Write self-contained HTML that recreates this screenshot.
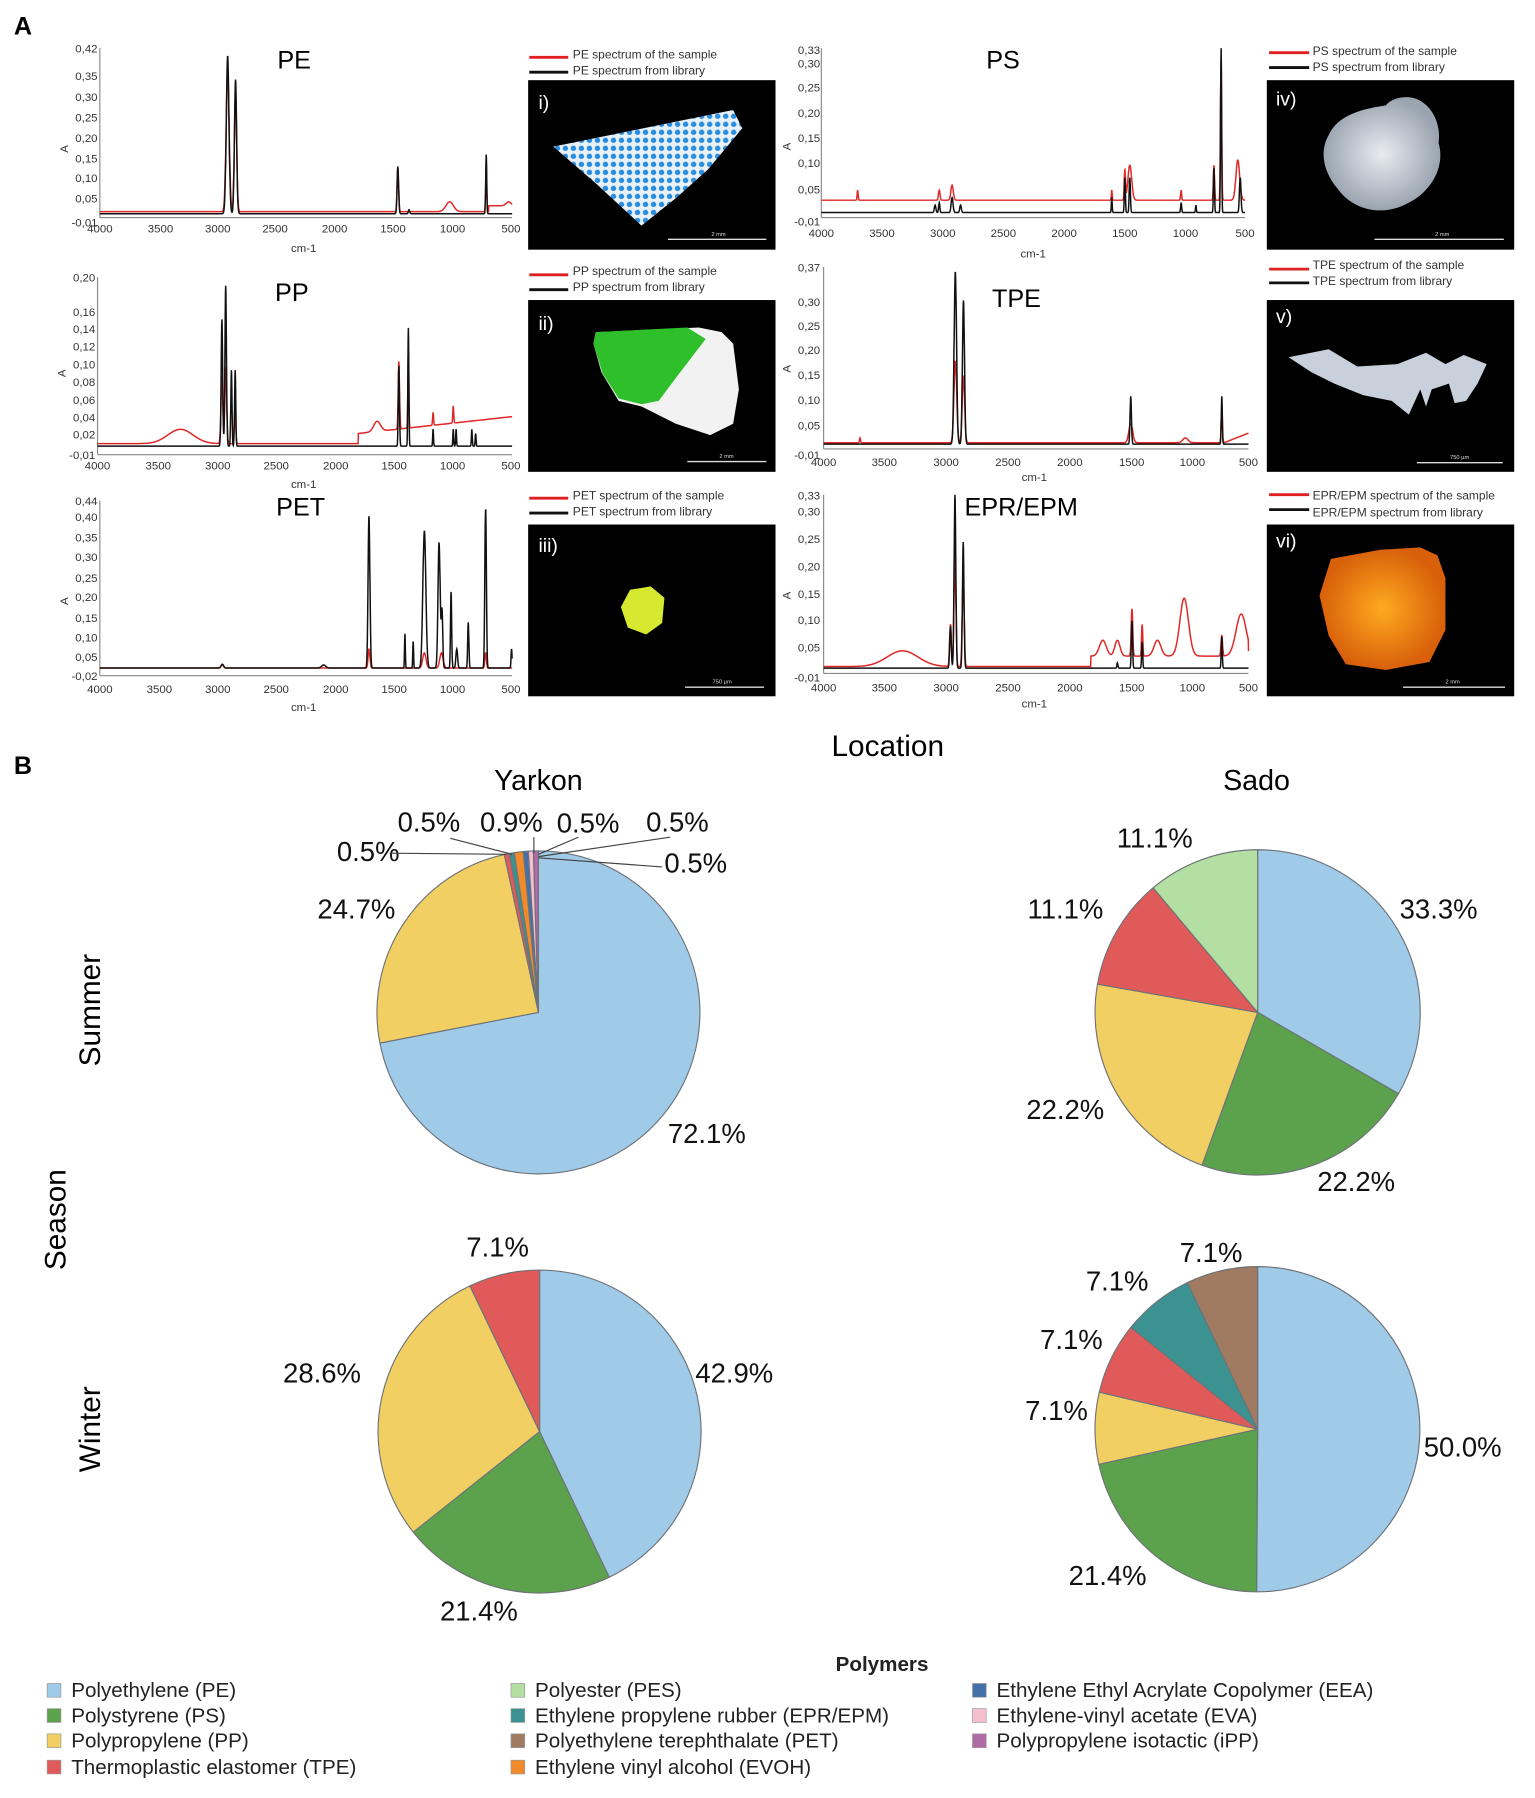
<!DOCTYPE html>
<html><head><meta charset="utf-8"><style>
html,body{margin:0;padding:0;background:#fff;}
svg{display:block;}
text{font-family:"Liberation Sans",sans-serif;}
.tk{font-size:10px;fill:#333;}
.pl{font-size:24px;fill:#111;}
.lg{font-size:18px;fill:#222;}
</style></head><body>
<svg id="s" width="1535" height="1798" viewBox="0 0 1340 1570" xmlns="http://www.w3.org/2000/svg">
<rect width="1340" height="1570" fill="#fff"/>
<text x="12" y="30" font-size="22" font-weight="bold">A</text>
<text x="12" y="676" font-size="22" font-weight="bold">B</text>

<text x="242" y="60" font-size="22">PE</text>
<text x="240" y="263" font-size="22">PP</text>
<text x="241" y="450" font-size="22">PET</text>
<text x="861" y="60" font-size="22">PS</text>
<text x="866" y="268" font-size="22">TPE</text>
<text x="842" y="450" font-size="22">EPR/EPM</text>

<g id="plots"></g>

<g font-size="10.5" fill="#333">
<line x1="462" y1="50" x2="496" y2="50" stroke="#e02020" stroke-width="2.5"/><text x="500" y="51">PE spectrum of the sample</text>
<line x1="462" y1="63" x2="496" y2="63" stroke="#111" stroke-width="2.5"/><text x="500" y="65">PE spectrum from library</text>
<line x1="462" y1="240" x2="496" y2="240" stroke="#e02020" stroke-width="2.5"/><text x="500" y="240">PP spectrum of the sample</text>
<line x1="462" y1="253" x2="496" y2="253" stroke="#111" stroke-width="2.5"/><text x="500" y="254">PP spectrum from library</text>
<line x1="462" y1="435" x2="496" y2="435" stroke="#e02020" stroke-width="2.5"/><text x="500" y="436">PET spectrum of the sample</text>
<line x1="462" y1="448" x2="496" y2="448" stroke="#111" stroke-width="2.5"/><text x="500" y="450">PET spectrum from library</text>
<line x1="1108" y1="46" x2="1143" y2="46" stroke="#e02020" stroke-width="2.5"/><text x="1146" y="48">PS spectrum of the sample</text>
<line x1="1108" y1="59" x2="1143" y2="59" stroke="#111" stroke-width="2.5"/><text x="1146" y="62">PS spectrum from library</text>
<line x1="1108" y1="235" x2="1143" y2="235" stroke="#e02020" stroke-width="2.5"/><text x="1146" y="235">TPE spectrum of the sample</text>
<line x1="1108" y1="247" x2="1143" y2="247" stroke="#111" stroke-width="2.5"/><text x="1146" y="249">TPE spectrum from library</text>
<line x1="1108" y1="432" x2="1143" y2="432" stroke="#e02020" stroke-width="2.5"/><text x="1146" y="436">EPR/EPM spectrum of the sample</text>
<line x1="1108" y1="445" x2="1143" y2="445" stroke="#111" stroke-width="2.5"/><text x="1146" y="451">EPR/EPM spectrum from library</text>
</g>

<defs>
<pattern id="dots" width="7" height="7" patternUnits="userSpaceOnUse"><rect width="7" height="7" fill="#e8f0f8"/><circle cx="3.5" cy="3.5" r="2.4" fill="#2a8ee0"/></pattern>
<radialGradient id="wg"><stop offset="0" stop-color="#e8ecf0"/><stop offset="1" stop-color="#9aa4b0"/></radialGradient>
<radialGradient id="og"><stop offset="0" stop-color="#ffaa20"/><stop offset="1" stop-color="#d8600a"/></radialGradient>
</defs>
<rect x="461" y="70" width="216" height="148" fill="#000"/>
<polygon points="483,128 640,96 648,112 618,148 590,173 560,197 520,160" fill="url(#dots)"/>
<text x="470" y="95" font-size="17" fill="#fff">i)</text>
<line x1="583" y1="209" x2="669" y2="209" stroke="#ddd" stroke-width="1.2"/><text x="621" y="206" font-size="5" fill="#ddd">2 mm</text>

<rect x="461" y="262" width="216" height="150" fill="#000"/>
<polygon points="520,290 610,286 630,290 640,300 645,340 640,370 620,380 590,370 560,355 540,350 525,325 518,300" fill="#f2f2f2"/>
<polygon points="520,290 600,286 616,296 590,330 575,350 560,353 540,348 526,326 518,300" fill="#2fbf2a"/>
<text x="470" y="288" font-size="17" fill="#fff">ii)</text>
<line x1="600" y1="403" x2="669" y2="403" stroke="#ddd" stroke-width="1.2"/><text x="628" y="400" font-size="5" fill="#ddd">2 mm</text>

<rect x="461" y="458" width="216" height="150" fill="#000"/>
<polygon points="550,515 568,512 580,522 578,544 564,554 548,548 542,530" fill="#d6e830"/>
<text x="470" y="482" font-size="17" fill="#fff">iii)</text>
<line x1="598" y1="600" x2="667" y2="600" stroke="#ddd" stroke-width="1.2"/><text x="622" y="597" font-size="5" fill="#ddd">750 µm</text>

<rect x="1106" y="70" width="216" height="148" fill="#000"/>
<path d="M1160,118 C1168,100 1190,95 1210,92 C1215,85 1230,82 1240,88 C1252,95 1258,110 1256,125 C1262,145 1250,168 1228,178 C1205,190 1180,182 1168,165 C1155,150 1152,132 1160,118Z" fill="url(#wg)"/>
<text x="1114" y="92" font-size="17" fill="#fff">iv)</text>
<line x1="1200" y1="209" x2="1313" y2="209" stroke="#ddd" stroke-width="1.2"/><text x="1253" y="206" font-size="5" fill="#ddd">2 mm</text>

<rect x="1106" y="262" width="216" height="150" fill="#000"/>
<path d="M1125,312 L1160,305 L1185,320 L1220,318 L1245,308 L1262,318 L1278,310 L1298,318 L1290,335 L1280,350 L1270,352 L1265,335 L1250,340 L1245,355 L1240,340 L1230,362 L1215,350 L1190,345 L1165,335 L1145,325 Z" fill="#c8d0dc"/>
<text x="1114" y="282" font-size="17" fill="#fff">v)</text>
<line x1="1237" y1="404" x2="1312" y2="404" stroke="#ddd" stroke-width="1.2"/><text x="1266" y="401" font-size="5" fill="#ddd">750 µm</text>

<rect x="1106" y="458" width="216" height="150" fill="#000"/>
<path d="M1162,488 L1205,480 L1240,478 L1255,485 L1262,505 L1262,550 L1248,578 L1210,585 L1175,580 L1160,555 L1152,520 Z" fill="url(#og)"/>
<text x="1114" y="478" font-size="17" fill="#fff">vi)</text>
<line x1="1225" y1="600" x2="1314" y2="600" stroke="#ddd" stroke-width="1.2"/><text x="1262" y="597" font-size="5" fill="#ddd">2 mm</text>

<text x="775" y="660" font-size="26" text-anchor="middle">Location</text>
<text x="470" y="690" font-size="25" text-anchor="middle">Yarkon</text>
<text x="1097" y="690" font-size="25" text-anchor="middle">Sado</text>
<text transform="translate(57,1065) rotate(-90)" font-size="26" text-anchor="middle">Season</text>
<text transform="translate(87,882) rotate(-90)" font-size="26" text-anchor="middle">Summer</text>
<text transform="translate(87,1248) rotate(-90)" font-size="26" text-anchor="middle">Winter</text>

<g id="pies" stroke="#6e7378" stroke-width="1"></g>

<g class="pl">
<text x="294" y="752">0.5%</text>
<text x="347" y="726">0.5%</text>
<text x="419" y="726">0.9%</text>
<text x="486" y="727">0.5%</text>
<text x="564" y="726">0.5%</text>
<text x="580" y="762">0.5%</text>
<text x="277" y="802">24.7%</text>
<text x="583" y="998">72.1%</text>
<text x="975" y="740">11.1%</text>
<text x="897" y="802">11.1%</text>
<text x="1222" y="802">33.3%</text>
<text x="896" y="977">22.2%</text>
<text x="1150" y="1040">22.2%</text>
<text x="407" y="1097">7.1%</text>
<text x="247" y="1207">28.6%</text>
<text x="607" y="1207">42.9%</text>
<text x="384" y="1415">21.4%</text>
<text x="1030" y="1102">7.1%</text>
<text x="948" y="1127">7.1%</text>
<text x="908" y="1178">7.1%</text>
<text x="895" y="1240">7.1%</text>
<text x="1243" y="1272">50.0%</text>
<text x="933" y="1384">21.4%</text>
</g>
<g stroke="#444" stroke-width="1" fill="none">
<polyline points="340,745 442,746"/>
<polyline points="393,732 447,746"/>
<polyline points="466,731 466,745"/>
<polyline points="505,731 470,746"/>
<polyline points="585,731 470,748"/>
<polyline points="578,757 470,749"/>
</g>

<text x="770" y="1459" font-size="18" font-weight="bold" text-anchor="middle" fill="#222">Polymers</text>
<g class="lg" stroke="#999" stroke-width="0.6">
<rect x="41" y="1470" width="12" height="12" fill="#9fcbe9"/><text x="62" y="1482" stroke="none">Polyethylene (PE)</text>
<rect x="41" y="1492" width="12" height="12" fill="#5ca14c"/><text x="62" y="1504" stroke="none">Polystyrene (PS)</text>
<rect x="41" y="1514" width="12" height="12" fill="#f2cf63"/><text x="62" y="1526" stroke="none">Polypropylene (PP)</text>
<rect x="41" y="1537" width="12" height="12" fill="#e05a5a"/><text x="62" y="1549" stroke="none">Thermoplastic elastomer (TPE)</text>
<rect x="446" y="1470" width="12" height="12" fill="#b3dfa3"/><text x="467" y="1482" stroke="none">Polyester (PES)</text>
<rect x="446" y="1492" width="12" height="12" fill="#3b9291"/><text x="467" y="1504" stroke="none">Ethylene propylene rubber (EPR/EPM)</text>
<rect x="446" y="1514" width="12" height="12" fill="#a07a61"/><text x="467" y="1526" stroke="none">Polyethylene terephthalate (PET)</text>
<rect x="446" y="1537" width="12" height="12" fill="#f08a2a"/><text x="467" y="1549" stroke="none">Ethylene vinyl alcohol (EVOH)</text>
<rect x="849" y="1470" width="12" height="12" fill="#4472a8"/><text x="870" y="1482" stroke="none">Ethylene Ethyl Acrylate Copolymer (EEA)</text>
<rect x="849" y="1492" width="12" height="12" fill="#f6bfcf"/><text x="870" y="1504" stroke="none">Ethylene-vinyl acetate (EVA)</text>
<rect x="849" y="1514" width="12" height="12" fill="#b06aa6"/><text x="870" y="1526" stroke="none">Polypropylene isotactic (iPP)</text>
</g>

<g class="tk">
<!-- PE -->
<g text-anchor="end">
<text x="85" y="46">0,42</text><text x="85" y="70">0,35</text><text x="85" y="88">0,30</text><text x="85" y="106">0,25</text><text x="85" y="124">0,20</text><text x="85" y="142">0,15</text><text x="85" y="159">0,10</text><text x="85" y="177">0,05</text><text x="85" y="198">-0,01</text>
</g>
<text x="87" y="203" text-anchor="middle">4000</text><text x="140" y="203" text-anchor="middle">3500</text><text x="190" y="203" text-anchor="middle">3000</text><text x="240" y="203" text-anchor="middle">2500</text><text x="292" y="203" text-anchor="middle">2000</text><text x="343" y="203" text-anchor="middle">1500</text><text x="395" y="203" text-anchor="middle">1000</text><text x="446" y="203" text-anchor="middle">500</text>
<text x="265" y="220" text-anchor="middle">cm-1</text>
<text transform="translate(59,130) rotate(-90)" text-anchor="middle">A</text>
<!-- PP -->
<g text-anchor="end">
<text x="83" y="246">0,20</text><text x="83" y="276">0,16</text><text x="83" y="291">0,14</text><text x="83" y="306">0,12</text><text x="83" y="322">0,10</text><text x="83" y="337">0,08</text><text x="83" y="353">0,06</text><text x="83" y="368">0,04</text><text x="83" y="383">0,02</text><text x="83" y="401">-0,01</text>
</g>
<text x="85" y="410" text-anchor="middle">4000</text><text x="138" y="410" text-anchor="middle">3500</text><text x="190" y="410" text-anchor="middle">3000</text><text x="241" y="410" text-anchor="middle">2500</text><text x="293" y="410" text-anchor="middle">2000</text><text x="344" y="410" text-anchor="middle">1500</text><text x="395" y="410" text-anchor="middle">1000</text><text x="446" y="410" text-anchor="middle">500</text>
<text x="265" y="426" text-anchor="middle">cm-1</text>
<text transform="translate(57,326) rotate(-90)" text-anchor="middle">A</text>
<!-- PET -->
<g text-anchor="end">
<text x="85" y="441">0,44</text><text x="85" y="455">0,40</text><text x="85" y="473">0,35</text><text x="85" y="490">0,30</text><text x="85" y="508">0,25</text><text x="85" y="525">0,20</text><text x="85" y="543">0,15</text><text x="85" y="560">0,10</text><text x="85" y="577">0,05</text><text x="85" y="594">-0,02</text>
</g>
<text x="87" y="605" text-anchor="middle">4000</text><text x="139" y="605" text-anchor="middle">3500</text><text x="190" y="605" text-anchor="middle">3000</text><text x="241" y="605" text-anchor="middle">2500</text><text x="293" y="605" text-anchor="middle">2000</text><text x="344" y="605" text-anchor="middle">1500</text><text x="395" y="605" text-anchor="middle">1000</text><text x="446" y="605" text-anchor="middle">500</text>
<text x="265" y="621" text-anchor="middle">cm-1</text>
<text transform="translate(59,525) rotate(-90)" text-anchor="middle">A</text>
<!-- PS -->
<text x="716" y="47" text-anchor="end">0,33</text><text x="716" y="59" text-anchor="end">0,30</text><text x="716" y="80" text-anchor="end">0,25</text><text x="716" y="102" text-anchor="end">0,20</text><text x="716" y="124" text-anchor="end">0,15</text><text x="716" y="146" text-anchor="end">0,10</text><text x="716" y="169" text-anchor="end">0,05</text><text x="716" y="197" text-anchor="end">-0,01</text>
<text x="717" y="207" text-anchor="middle">4000</text><text x="770" y="207" text-anchor="middle">3500</text><text x="823" y="207" text-anchor="middle">3000</text><text x="876" y="207" text-anchor="middle">2500</text><text x="929" y="207" text-anchor="middle">2000</text><text x="982" y="207" text-anchor="middle">1500</text><text x="1035" y="207" text-anchor="middle">1000</text><text x="1087" y="207" text-anchor="middle">500</text>
<text x="902" y="225" text-anchor="middle">cm-1</text>
<text transform="translate(690,128) rotate(-90)" text-anchor="middle">A</text>
<!-- TPE -->
<text x="716" y="237" text-anchor="end">0,37</text><text x="716" y="267" text-anchor="end">0,30</text><text x="716" y="288" text-anchor="end">0,25</text><text x="716" y="309" text-anchor="end">0,20</text><text x="716" y="331" text-anchor="end">0,15</text><text x="716" y="353" text-anchor="end">0,10</text><text x="716" y="375" text-anchor="end">0,05</text><text x="716" y="401" text-anchor="end">-0,01</text>
<text x="719" y="407" text-anchor="middle">4000</text><text x="772" y="407" text-anchor="middle">3500</text><text x="826" y="407" text-anchor="middle">3000</text><text x="880" y="407" text-anchor="middle">2500</text><text x="934" y="407" text-anchor="middle">2000</text><text x="988" y="407" text-anchor="middle">1500</text><text x="1041" y="407" text-anchor="middle">1000</text><text x="1090" y="407" text-anchor="middle">500</text>
<text x="903" y="420" text-anchor="middle">cm-1</text>
<text transform="translate(690,322) rotate(-90)" text-anchor="middle">A</text>
<!-- EPR -->
<text x="716" y="436" text-anchor="end">0,33</text><text x="716" y="450" text-anchor="end">0,30</text><text x="716" y="474" text-anchor="end">0,25</text><text x="716" y="498" text-anchor="end">0,20</text><text x="716" y="522" text-anchor="end">0,15</text><text x="716" y="545" text-anchor="end">0,10</text><text x="716" y="569" text-anchor="end">0,05</text><text x="716" y="595" text-anchor="end">-0,01</text>
<text x="719" y="604" text-anchor="middle">4000</text><text x="772" y="604" text-anchor="middle">3500</text><text x="826" y="604" text-anchor="middle">3000</text><text x="880" y="604" text-anchor="middle">2500</text><text x="934" y="604" text-anchor="middle">2000</text><text x="988" y="604" text-anchor="middle">1500</text><text x="1041" y="604" text-anchor="middle">1000</text><text x="1090" y="604" text-anchor="middle">500</text>
<text x="903" y="618" text-anchor="middle">cm-1</text>
<text transform="translate(690,520) rotate(-90)" text-anchor="middle">A</text>
</g>
</svg>
<script>
(function(){
var NS="http://www.w3.org/2000/svg";
function el(p,t,a){var e=document.createElementNS(NS,t);for(var k in a)e.setAttribute(k,a[k]);p.appendChild(e);return e;}
var plots=document.getElementById("plots");
function spec(x0,x1,yt,yb,ymax,ymin,black,red){
  el(plots,"line",{x1:x0,y1:yt,x2:x0,y2:yb,stroke:"#888","stroke-width":1});
  el(plots,"line",{x1:x0,y1:yb,x2:x1,y2:yb,stroke:"#888","stroke-width":1});
  function mk(def,col){
    var d="";
    for(var w=4000;w>=500;w-=2){
      var v=def.b;
      if(def.slope) v+=def.slope(w);
      def.p.forEach(function(q){var z=(w-q[0])/q[2];v+=q[1]*Math.exp(-z*z);});
      var X=x0+(4000-w)/3500*(x1-x0);
      var Y=yb-(v-ymin)/(ymax-ymin)*(yb-yt);
      d+=(d?"L":"M")+X.toFixed(1)+","+Y.toFixed(1);
    }
    el(plots,"path",{d:d,fill:"none",stroke:col,"stroke-width":1.3});
  }
  mk(red,"#e02828");mk(black,"#111");
}
spec(87,447,42,190,0.42,-0.01,
 {b:0,p:[[2915,0.40,16],[2848,0.34,13],[1470,0.12,9],[1375,0.01,8],[720,0.15,6]]},
 {b:0.005,slope:function(w){return w<700?0.015:0;},p:[[2915,0.36,18],[2848,0.30,14],[1470,0.11,9],[1030,0.025,45],[720,0.13,6],[530,0.01,30]]});
spec(85,447,242,397,0.20,-0.01,
 {b:0,p:[[2950,0.15,9],[2918,0.19,9],[2870,0.09,7],[2838,0.09,7],[1456,0.095,7],[1376,0.14,6],[1167,0.02,5],[997,0.02,5],[973,0.02,5],[840,0.02,5],[808,0.015,5]]},
 {b:0.003,slope:function(w){return w<1800? 0.012+ (1800-w)/1300*0.02:0;},p:[[3300,0.017,150],[2950,0.08,11],[2918,0.09,11],[2840,0.04,9],[1640,0.012,40],[1456,0.08,8],[1376,0.09,6],[1167,0.015,6],[997,0.02,6]]});
spec(87,447,437,590,0.44,-0.02,
 {b:0,p:[[2960,0.01,15],[2100,0.008,25],[1715,0.40,11],[1410,0.09,5],[1340,0.07,5],[1245,0.36,18],[1120,0.33,13],[1095,0.15,9],[1018,0.2,7],[970,0.05,10],[872,0.12,7],[725,0.42,9],[505,0.05,6]]},
 {b:0,p:[[2960,0.008,15],[1715,0.05,11],[1245,0.04,20],[1100,0.04,20],[725,0.04,9]]});
spec(717,1087,42,190,0.33,-0.01,
 {b:0,p:[[3060,0.015,9],[3026,0.02,7],[2920,0.03,11],[2850,0.015,9],[1601,0.03,5],[1493,0.07,6],[1452,0.07,7],[1028,0.02,6],[906,0.015,5],[757,0.09,6],[698,0.33,6],[540,0.07,9]]},
 {b:0.025,p:[[3700,0.02,6],[3026,0.02,9],[2920,0.03,14],[1601,0.02,5],[1493,0.06,7],[1452,0.07,22],[1028,0.02,6],[757,0.07,7],[698,0.28,7],[560,0.08,22]]});
spec(719,1090,233,392,0.37,-0.01,
 {b:0,p:[[2915,0.36,14],[2848,0.30,12],[1470,0.10,8],[720,0.10,6]]},
 {b:0.003,slope:function(w){return w<700?(700-w)/200*0.02:0;},p:[[3700,0.01,6],[2915,0.17,16],[2848,0.14,14],[1470,0.04,22],[1020,0.01,30],[720,0.08,7]]});
spec(719,1090,432,588,0.33,-0.01,
 {b:0,p:[[2955,0.08,9],[2918,0.33,10],[2850,0.24,9],[1580,0.01,6],[1460,0.09,7],[1376,0.05,6],[720,0.06,6]]},
 {b:0.003,slope:function(w){return (w<1800&&w>500)?0.02:0;},p:[[3350,0.03,180],[2955,0.08,10],[2918,0.21,11],[2850,0.18,11],[1700,0.03,40],[1580,0.03,30],[1460,0.09,9],[1376,0.06,7],[1250,0.03,40],[1030,0.11,50],[720,0.04,9],[560,0.08,60]]});

var pies=document.getElementById("pies");
var C={pe:"#9fcbe9",ps:"#5ca14c",pp:"#f2cf63",tpe:"#e05a5a",pes:"#b3dfa3",epr:"#3b9291",pet:"#a07a61",evoh:"#f08a2a",eea:"#4472a8",eva:"#f6bfcf",ipp:"#b06aa6"};
function pie(cx,cy,r,sl){
  var tot=0;sl.forEach(function(s){tot+=s[0];});
  var a=0;
  sl.forEach(function(s){
    var a0=a/tot*2*Math.PI, a1=(a+s[0])/tot*2*Math.PI; a+=s[0];
    var x0=cx+r*Math.sin(a0),y0=cy-r*Math.cos(a0),x1=cx+r*Math.sin(a1),y1=cy-r*Math.cos(a1);
    var lg=(a1-a0)>Math.PI?1:0;
    el(pies,"path",{d:"M"+cx+","+cy+"L"+x0.toFixed(2)+","+y0.toFixed(2)+"A"+r+","+r+" 0 "+lg+" 1 "+x1.toFixed(2)+","+y1.toFixed(2)+"Z",fill:C[s[1]]});
  });
}
pie(470,884,141,[[72.1,"pe"],[24.7,"pp"],[0.5,"tpe"],[0.5,"epr"],[0.9,"evoh"],[0.5,"eea"],[0.5,"eva"],[0.5,"ipp"]]);
pie(1098,884,142,[[33.3,"pe"],[22.2,"ps"],[22.2,"pp"],[11.1,"tpe"],[11.1,"pes"]]);
pie(471,1250,141,[[42.9,"pe"],[21.4,"ps"],[28.6,"pp"],[7.1,"tpe"]]);
pie(1098,1248,142,[[50,"pe"],[21.4,"ps"],[7.1,"pp"],[7.1,"tpe"],[7.1,"epr"],[7.1,"pet"]]);
})();
</script>
</body></html>
